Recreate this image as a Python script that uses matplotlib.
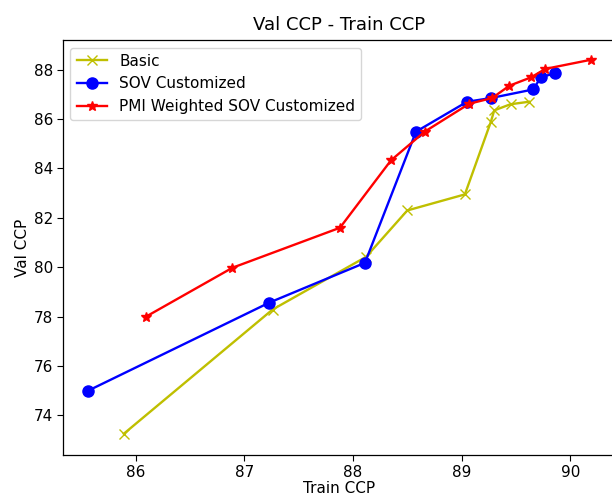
import matplotlib
matplotlib.use("Agg")
import matplotlib.pyplot as plt

basic_x = [85.89, 87.26, 88.12, 88.50, 89.03, 89.27, 89.30, 89.45, 89.62]
basic_y = [73.26, 78.29, 80.42, 82.30, 82.95, 85.90, 86.35, 86.60, 86.70]

sov_x = [85.56, 87.23, 88.11, 88.58, 89.05, 89.27, 89.66, 89.73, 89.86]
sov_y = [75.00, 78.57, 80.18, 85.49, 86.70, 86.85, 87.20, 87.70, 87.85]

pmi_x = [86.09, 86.89, 87.88, 88.35, 88.66, 89.07, 89.28, 89.44, 89.64, 89.77, 90.19]
pmi_y = [77.99, 79.98, 81.60, 84.33, 85.49, 86.62, 86.85, 87.35, 87.69, 88.03, 88.40]

labels = ["Basic", "SOV Customized", "PMI Weighted SOV Customized"]

plt.rcParams.update({
    "font.size": 11,
    "axes.titlesize": 13,
    "axes.labelsize": 11,
    "xtick.labelsize": 11,
    "ytick.labelsize": 11,
    "legend.fontsize": 11,
    "lines.linewidth": 1.7,
    "axes.linewidth": 0.9,
    "xtick.major.size": 4,
    "ytick.major.size": 4,
    "xtick.major.pad": 3,
    "ytick.major.pad": 3,
})

fig = plt.figure(figsize=(6.12, 4.97), dpi=100)
ax = fig.add_axes([0.1026, 0.0845, 0.904, 0.835])
ax.plot(basic_x, basic_y, 'y-x', label=labels[0], markersize=7)
ax.plot(sov_x, sov_y, 'b-o', label=labels[1], markersize=8)
ax.plot(pmi_x, pmi_y, 'r-*', label=labels[2], markersize=7)
ax.set_ylim(72.4, 89.2)
ax.set_title("Val CCP - Train CCP", pad=7)
ax.set_xlabel("Train CCP", labelpad=1)
ax.set_ylabel("Val CCP", labelpad=3)
ax.legend(loc="upper left")
fig.savefig("out.png", dpi=100)
